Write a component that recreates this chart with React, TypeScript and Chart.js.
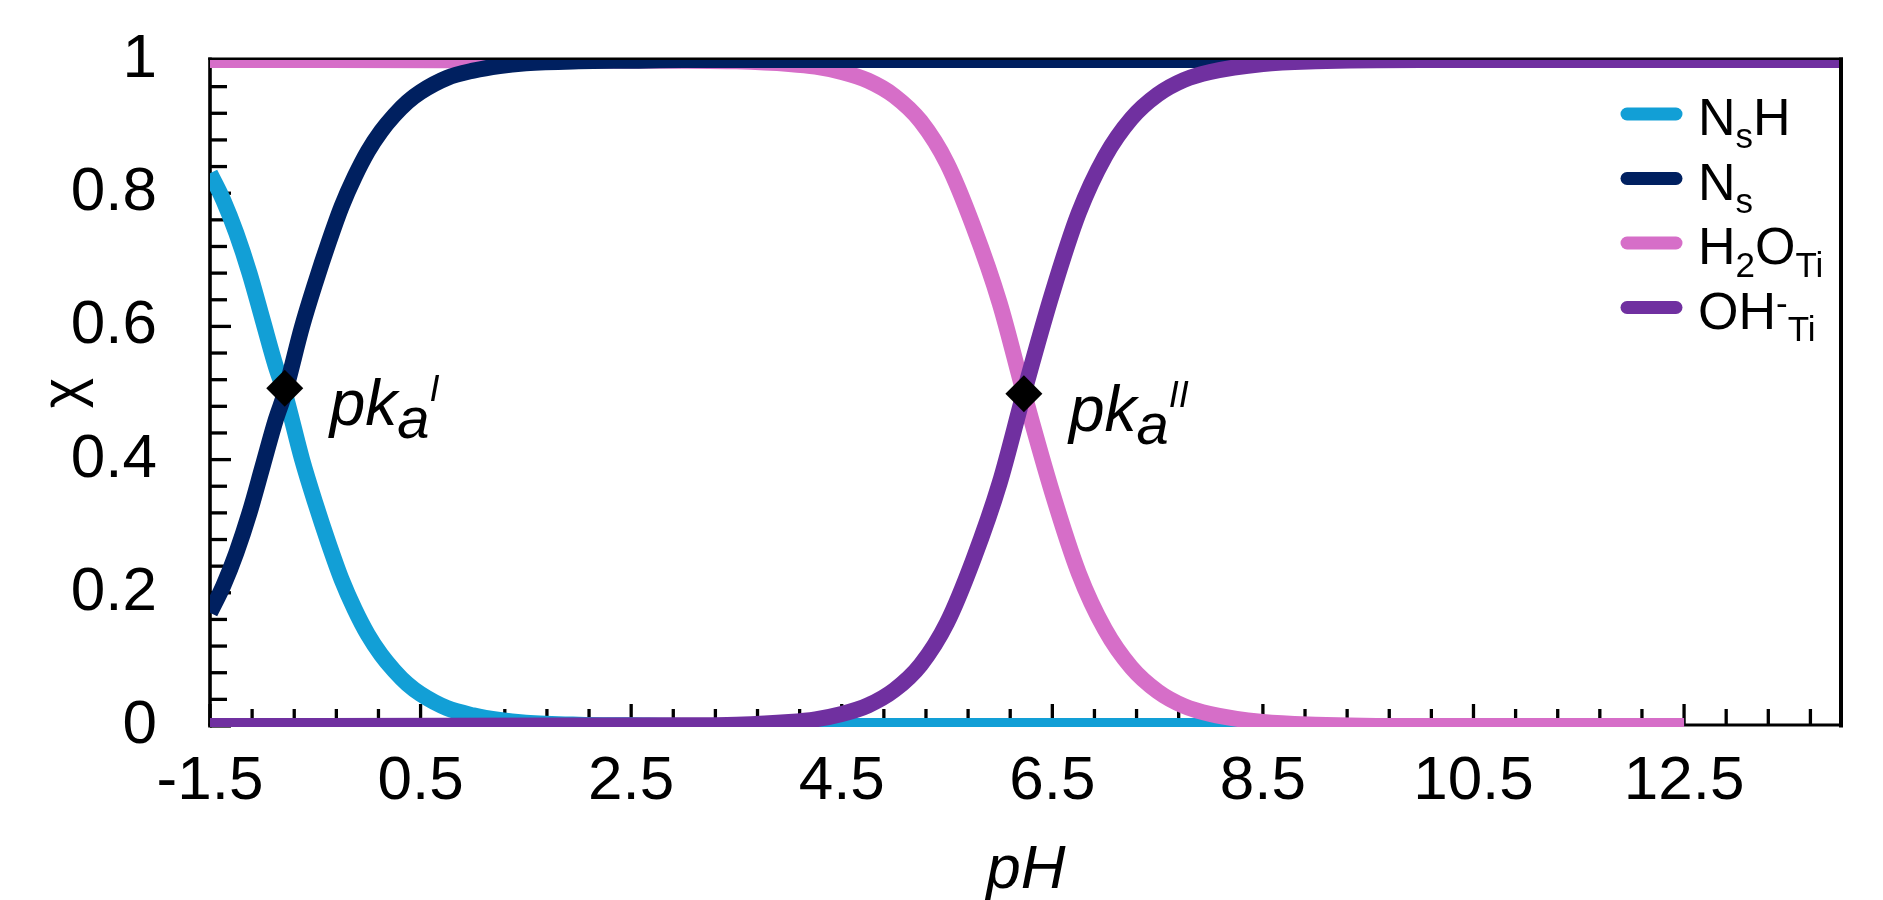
import React, { useEffect, useRef } from 'react';
import { Chart, registerables } from 'chart.js';

Chart.register(...registerables);

// ---------------- data ----------------
const xTickValues = [-1.5, 0.5, 2.5, 4.5, 6.5, 8.5, 10.5, 12.5];
const yTickValues = [0, 0.2, 0.4, 0.6, 0.8, 1];

// first deprotonation (N_s)
const pH1 = [-1.5, -1.375, -1.25, -1.125, -1.0, -0.875, -0.79, -0.625, -0.5, -0.375, -0.25, -0.125, 0, 0.125, 0.25, 0.375, 0.5, 0.75, 1.0, 1.25, 1.5, 2.0, 2.5, 3.0, 12.5];
const NsH = [0.83, 0.79, 0.74, 0.68, 0.61, 0.54, 0.5, 0.4, 0.335, 0.275, 0.22, 0.175, 0.137, 0.107, 0.083, 0.063, 0.048, 0.027, 0.016, 0.009, 0.005, 0.002, 0.001, 0, 0];
const Ns = [0.17, 0.21, 0.26, 0.32, 0.39, 0.46, 0.5, 0.6, 0.665, 0.725, 0.78, 0.825, 0.863, 0.893, 0.917, 0.937, 0.952, 0.973, 0.984, 0.991, 0.995, 0.998, 0.999, 1, 1];

// second deprotonation (Ti-bound water)
const pH2 = [-1.5, 3.0, 3.5, 4.0, 4.25, 4.5, 4.75, 5.0, 5.25, 5.5, 5.75, 6.0, 6.23, 6.5, 6.75, 7.0, 7.25, 7.5, 7.75, 8.0, 8.5, 9.0, 10.0, 12.5, 14];
const H2O_Ti = [1, 0.999, 0.998, 0.994, 0.99, 0.982, 0.969, 0.946, 0.908, 0.845, 0.75, 0.635, 0.5, 0.35, 0.23, 0.145, 0.088, 0.052, 0.03, 0.018, 0.006, 0.002, 0, 0, null];
const OH_Ti = [0, 0.001, 0.002, 0.006, 0.01, 0.018, 0.031, 0.054, 0.092, 0.155, 0.25, 0.365, 0.5, 0.65, 0.77, 0.855, 0.912, 0.948, 0.97, 0.982, 0.994, 0.998, 1, 1, 1];

// pKa markers
const pKaX = [-0.79, 6.23];
const pKaY = [0.507, 0.499];
const pKaSup = ['I', 'II'];

const seriesColors = ['#129FD6', '#002060', '#D66EC8', '#7030A0'];

type Seg = { t: string; size: number; dy: number; italic?: boolean };
const MAIN = 52;
const SUB = 35;
const legendLabels: Seg[][] = [
  [{ t: 'N', size: MAIN, dy: 0 }, { t: 's', size: SUB, dy: 13 }, { t: 'H', size: MAIN, dy: 0 }],
  [{ t: 'N', size: MAIN, dy: 0 }, { t: 's', size: SUB, dy: 13 }],
  [{ t: 'H', size: MAIN, dy: 0 }, { t: '2', size: SUB, dy: 13 }, { t: 'O', size: MAIN, dy: 0 }, { t: 'Ti', size: SUB, dy: 13 }],
  [{ t: 'OH', size: MAIN, dy: 0 }, { t: '-', size: SUB, dy: -14 }, { t: 'Ti', size: SUB, dy: 12 }],
];

const FF = '"Liberation Sans", Arial, Helvetica, sans-serif';

function pts(xs: number[], ys: (number | null)[]) {
  const out: { x: number; y: number }[] = [];
  xs.forEach((x, i) => {
    const y = ys[i];
    if (y !== null && y !== undefined) out.push({ x, y });
  });
  return out;
}

function drawRich(ctx: CanvasRenderingContext2D, segs: Seg[], x: number, y: number) {
  let cx = x;
  for (const s of segs) {
    ctx.font = `${s.italic ? 'italic ' : ''}${s.size}px ${FF}`;
    ctx.fillText(s.t, cx, y + s.dy);
    cx += ctx.measureText(s.t).width;
  }
}

const underPlugin = {
  id: 'underFrame',
  beforeDatasetsDraw(chart: any) {
    const { ctx, chartArea: ca, scales } = chart;
    const xs = scales.x;
    const ys = scales.y;
    const yBase = ca.bottom - 1;
    ctx.save();
    ctx.strokeStyle = '#000';
    ctx.lineCap = 'butt';
    ctx.lineWidth = 3.3;
    // y ticks (inside)
    for (let i = 0; i <= 25; i++) {
      const y = ys.getPixelForValue(i * 0.04);
      const major = i % 5 === 0;
      ctx.beginPath();
      ctx.moveTo(ca.left, y);
      ctx.lineTo(ca.left + (major ? 21 : 17), y);
      ctx.stroke();
    }
    // x ticks (inside)
    for (let i = 0; i < 60; i++) {
      const v = -1.5 + i * 0.4;
      if (v > 14.0001) break;
      const x = xs.getPixelForValue(v);
      const major = i % 5 === 0;
      ctx.beginPath();
      ctx.moveTo(x, yBase);
      ctx.lineTo(x, yBase - (major ? 21 : 16));
      ctx.stroke();
    }
    // left axis
    ctx.lineWidth = 3.6;
    ctx.beginPath();
    ctx.moveTo(ca.left, ca.top - 2.4);
    ctx.lineTo(ca.left, ca.bottom + 1.5);
    ctx.stroke();
    // bottom axis
    ctx.lineWidth = 3;
    ctx.beginPath();
    ctx.moveTo(ca.left - 1.8, yBase);
    ctx.lineTo(ca.right + 1, yBase);
    ctx.stroke();
    // top frame
    ctx.lineWidth = 2.4;
    ctx.beginPath();
    ctx.moveTo(ca.left - 1.8, ca.top - 1.2);
    ctx.lineTo(ca.right + 1, ca.top - 1.2);
    ctx.stroke();
    ctx.restore();
  },
};

const overPlugin = {
  id: 'overlay',
  afterDatasetsDraw(chart: any) {
    const { ctx, chartArea: ca, scales } = chart;
    ctx.save();
    // right frame
    ctx.strokeStyle = '#000';
    ctx.lineWidth = 4;
    ctx.beginPath();
    ctx.moveTo(ca.right - 1, ca.top - 2.4);
    ctx.lineTo(ca.right - 1, ca.bottom + 1.5);
    ctx.stroke();

    // pKa labels
    ctx.fillStyle = '#000';
    ctx.textBaseline = 'alphabetic';
    ctx.textAlign = 'left';
    pKaX.forEach((v, i) => {
      const px = scales.x.getPixelForValue(v);
      const py = scales.y.getPixelForValue(pKaY[i]);
      drawRich(ctx, [
        { t: 'pk', size: 64, dy: 0, italic: true },
        { t: 'a', size: 58, dy: 13, italic: true },
        { t: pKaSup[i], size: 36, dy: -24, italic: true },
      ], px + 45, py + 37);
    });

    // legend
    const lx0 = ca.right - 215;
    const lx1 = ca.right - 166;
    const tx = ca.right - 144;
    legendLabels.forEach((segs, i) => {
      const base = 135 + i * 64.5;
      ctx.strokeStyle = seriesColors[i];
      ctx.lineWidth = 13;
      ctx.lineCap = 'round';
      ctx.beginPath();
      ctx.moveTo(lx0, base - 21);
      ctx.lineTo(lx1, base - 21);
      ctx.stroke();
      ctx.fillStyle = '#000';
      drawRich(ctx, segs, tx, base);
    });
    ctx.restore();
  },
};

const LW = 16;

export default function App() {
  const ref = useRef<HTMLCanvasElement>(null);
  useEffect(() => {
    const canvas = ref.current;
    if (!canvas) return;
    const common = {
      showLine: true,
      pointRadius: 0,
      pointHoverRadius: 0,
      borderWidth: LW,
      cubicInterpolationMode: 'monotone' as const,
      clip: { left: 0, top: 0, right: 0, bottom: 1 },
      fill: false,
    };
    const chart = new Chart(canvas, {
      type: 'scatter',
      data: {
        datasets: [
          { ...common, label: 'NsH', data: pts(pH1, NsH), borderColor: seriesColors[0], backgroundColor: seriesColors[0], order: 3 },
          { ...common, label: 'Ns', data: pts(pH1, Ns), borderColor: seriesColors[1], backgroundColor: seriesColors[1], order: 1 },
          { ...common, label: 'H2O_Ti', data: pts(pH2, H2O_Ti), borderColor: seriesColors[2], backgroundColor: seriesColors[2], order: 2 },
          { ...common, label: 'OH-_Ti', data: pts(pH2, OH_Ti), borderColor: seriesColors[3], backgroundColor: seriesColors[3], order: 0 },
          {
            label: 'pKa',
            data: pts(pKaX, pKaY),
            showLine: false,
            pointStyle: 'rectRot',
            pointRadius: 18.5,
            pointHoverRadius: 18.5,
            backgroundColor: '#000',
            borderColor: '#000',
            borderWidth: 0,
            clip: false as any,
            order: -1,
          },
        ],
      },
      options: {
        responsive: false,
        animation: false,
        devicePixelRatio: 1,
        layout: { padding: { left: 0, top: 60, right: 41, bottom: 0 } },
        plugins: {
          legend: { display: false },
          tooltip: { enabled: false },
        },
        events: [],
        scales: {
          x: {
            type: 'linear',
            min: -1.5,
            max: 14,
            afterBuildTicks: (s: any) => {
              s.ticks = xTickValues.map((v) => ({ value: v }));
            },
            afterFit: (s: any) => {
              s.height = 174;
              s.paddingLeft = 0;
              s.paddingRight = 0;
              s.paddingTop = 0;
              s.paddingBottom = 0;
            },
            grid: { display: false, drawTicks: false },
            border: { display: false },
            ticks: {
              color: '#000',
              font: { family: FF, size: 62 },
              padding: 19,
              maxRotation: 0,
              minRotation: 0,
              autoSkip: false,
              callback: (v: any) => String(v),
            },
            title: {
              display: true,
              text: 'pH',
              color: '#000',
              font: { family: FF, size: 62, style: 'italic', lineHeight: 1 },
              padding: { top: 0, bottom: -2 },
            },
          },
          y: {
            type: 'linear',
            min: 0,
            max: 1,
            afterBuildTicks: (s: any) => {
              s.ticks = yTickValues.map((v) => ({ value: v }));
            },
            afterFit: (s: any) => {
              s.width = 210;
              s.paddingLeft = 0;
              s.paddingRight = 0;
              s.paddingTop = 0;
              s.paddingBottom = 0;
            },
            grid: { display: false, drawTicks: false },
            border: { display: false },
            ticks: {
              color: '#000',
              font: { family: FF, size: 62 },
              padding: 53,
              autoSkip: false,
              callback: (v: any) => String(v),
            },
            title: {
              display: true,
              text: 'χ',
              color: '#000',
              font: { family: FF, size: 58, lineHeight: 1 },
              padding: { top: 36, bottom: 0 },
            },
          },
        },
      },
      plugins: [underPlugin, overPlugin],
    } as any);
    return () => chart.destroy();
  }, []);

  return (
    <div style={{ position: 'fixed', left: 0, top: 0, width: 1883, height: 900, background: '#fff' }}>
      <canvas ref={ref} width={1883} height={900} style={{ display: 'block', width: 1883, height: 900 }} />
    </div>
  );
}
